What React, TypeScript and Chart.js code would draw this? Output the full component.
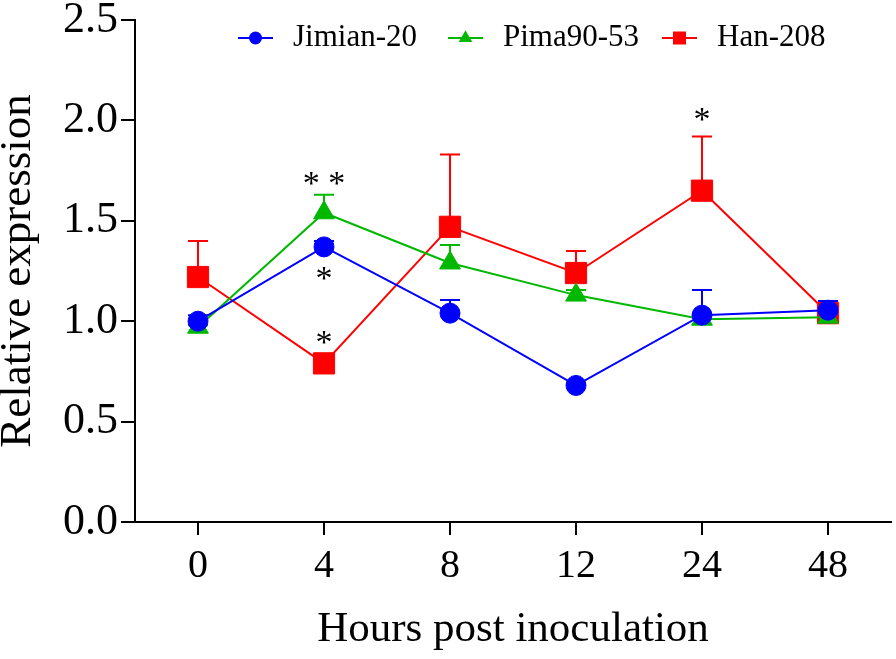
import React, { useEffect, useRef } from 'react';
import { Chart, registerables } from 'chart.js';

Chart.register(...registerables);

const categories = ['0', '4', '8', '12', '24', '48'];
const seriesNames = ['Jimian-20', 'Pima90-53', 'Han-208'];
const jimianValues = [1.0, 1.37, 1.04, 0.68, 1.03, 1.055];
const jimianErrors = [0.03, 0.03, 0.065, 0.01, 0.125, 0.045];
const pimaValues = [0.97, 1.54, 1.29, 1.13, 1.01, 1.02];
const pimaErrors = [0.01, 0.09, 0.09, 0.025, 0.03, 0.03];
const hanValues = [1.22, 0.79, 1.47, 1.24, 1.65, 1.04];
const hanErrors = [0.18, 0.01, 0.36, 0.11, 0.27, 0.06];
const yTickValues = [0, 0.5, 1.0, 1.5, 2.0, 2.5];
const starTexts = ['* *', '*', '*', '*'];
const starCategories = ['4', '4', '4', '24'];
const starValues = [1.71, 1.24, 0.92, 2.03];

const FONT = '"Liberation Serif", "Times New Roman", serif';
const COLORS = ['#0000ff', '#00b800', '#ff0000'];
const STYLES = ['circle', 'triangle', 'rect'];
const errorSets = [jimianErrors, pimaErrors, hanErrors];
const valueSets = [jimianValues, pimaValues, hanValues];

const errorBarPlugin = {
  id: 'errorBars',
  beforeDatasetDraw(chart: any, args: any) {
    const i = args.index;
    const ctx = chart.ctx;
    const yScale = chart.scales.y;
    const vals = valueSets[i];
    const errs = errorSets[i];
    ctx.save();
    ctx.strokeStyle = COLORS[i];
    ctx.lineWidth = 2;
    args.meta.data.forEach((pt: any, k: number) => {
      const top = yScale.getPixelForValue(vals[k] + errs[k]);
      ctx.beginPath();
      ctx.moveTo(pt.x, pt.y);
      ctx.lineTo(pt.x, top);
      ctx.moveTo(pt.x - 10, top);
      ctx.lineTo(pt.x + 10, top);
      ctx.stroke();
    });
    ctx.restore();
  },
};

function drawMarker(ctx: CanvasRenderingContext2D, style: string, x: number, y: number, s: number) {
  ctx.beginPath();
  if (style === 'circle') {
    ctx.arc(x, y, s, 0, Math.PI * 2);
  } else if (style === 'triangle') {
    const r = s * 1.2;
    ctx.moveTo(x, y - r);
    ctx.lineTo(x + r * Math.sin(Math.PI / 3), y + r / 2);
    ctx.lineTo(x - r * Math.sin(Math.PI / 3), y + r / 2);
    ctx.closePath();
  } else {
    ctx.rect(x - s, y - s, 2 * s, 2 * s);
  }
  ctx.fill();
}

const legendPlugin = {
  id: 'customLegend',
  afterDraw(chart: any) {
    const ctx = chart.ctx;
    const starts = [238, 448, 662];
    const y = 38;
    ctx.save();
    seriesNames.forEach((name, i) => {
      const x1 = starts[i];
      const x2 = x1 + 35;
      ctx.strokeStyle = COLORS[i];
      ctx.fillStyle = COLORS[i];
      ctx.lineWidth = 2;
      ctx.beginPath();
      ctx.moveTo(x1, y);
      ctx.lineTo(x2, y);
      ctx.stroke();
      drawMarker(ctx, STYLES[i], (x1 + x2) / 2, y, 6.5);
      ctx.fillStyle = '#000';
      ctx.font = `31px ${FONT}`;
      ctx.textBaseline = 'middle';
      ctx.textAlign = 'left';
      ctx.fillText(name, x2 + 20, y);
    });
    ctx.restore();
  },
};

const starPlugin = {
  id: 'stars',
  afterDatasetsDraw(chart: any) {
    const ctx = chart.ctx;
    const xs = chart.scales.x;
    const ys = chart.scales.y;
    ctx.save();
    ctx.fillStyle = '#000';
    ctx.font = `34px ${FONT}`;
    ctx.textAlign = 'center';
    ctx.textBaseline = 'alphabetic';
    starTexts.forEach((t, i) => {
      const px = xs.getPixelForValue(categories.indexOf(starCategories[i]));
      const py = ys.getPixelForValue(starValues[i]);
      const m = ctx.measureText(t);
      const asc = m.actualBoundingBoxAscent || 0;
      const desc = m.actualBoundingBoxDescent || 0;
      ctx.fillText(t, px, py + (asc - desc) / 2);
    });
    ctx.restore();
  },
};

export default function App() {
  const ref = useRef<HTMLCanvasElement | null>(null);
  useEffect(() => {
    document.body.style.margin = '0';
    document.body.style.overflow = 'hidden';
    if (!ref.current) return;
    const chart = new Chart(ref.current, {
      type: 'line',
      data: {
        labels: categories,
        datasets: seriesNames.map((name, i) => ({
          label: name,
          data: valueSets[i],
          borderColor: COLORS[i],
          backgroundColor: COLORS[i],
          borderWidth: 2,
          pointStyle: STYLES[i] as any,
          pointRadius: i === 0 ? 10 : i === 1 ? 12 : 15,
          pointBorderWidth: 1,
          pointBackgroundColor: COLORS[i],
          pointBorderColor: COLORS[i],
          tension: 0,
          fill: false,
          clip: false as any,
        })),
      },
      options: {
        responsive: false,
        animation: false,
        devicePixelRatio: 1,
        layout: { autoPadding: false, padding: { top: 20, right: 5, left: 0, bottom: 0 } },
        plugins: {
          legend: { display: false },
          tooltip: { enabled: false },
        },
        scales: {
          x: {
            type: 'category',
            offset: true,
            grid: {
              display: true,
              drawOnChartArea: false,
              drawTicks: true,
              tickLength: 13,
              color: '#000',
              lineWidth: 2,
              offset: false,
            },
            border: { display: true, color: '#000', width: 2 },
            ticks: {
              color: '#000',
              font: { family: FONT, size: 40 },
              padding: 7,
              maxRotation: 0,
            },
            title: {
              display: true,
              text: 'Hours post inoculation',
              color: '#000',
              font: { family: FONT, size: 43 },
              padding: { top: 0, bottom: 3 },
            },
            afterFit(scale: any) {
              scale.height = 137;
              scale.paddingLeft = 0;
              scale.paddingRight = 0;
            },
          },
          y: {
            type: 'linear',
            min: 0,
            max: 2.5,
            grid: {
              display: true,
              drawOnChartArea: false,
              drawTicks: true,
              tickLength: 14,
              color: '#000',
              lineWidth: 2,
            },
            border: { display: true, color: '#000', width: 2 },
            afterBuildTicks(scale: any) {
              scale.ticks = yTickValues.map((v) => ({ value: v }));
            },
            ticks: {
              color: '#000',
              font: { family: FONT, size: 44, lineHeight: 0.8 },
              padding: 3,
              callback: (v: any) => Number(v).toFixed(1),
            },
            title: {
              display: true,
              text: 'Relative expression',
              color: '#000',
              font: { family: FONT, size: 45, lineHeight: 0.8 },
              padding: { top: 0, bottom: 0 },
            },
            afterFit(scale: any) {
              scale.width = 135;
              scale.paddingTop = 0;
              scale.paddingBottom = 0;
            },
          },
        },
      },
      plugins: [errorBarPlugin, starPlugin, legendPlugin],
    });
    return () => chart.destroy();
  }, []);
  return (
    <div style={{ width: 896, height: 659, overflow: 'hidden' }}>
      <canvas ref={ref} width={896} height={659} style={{ display: 'block' }} />
    </div>
  );
}
